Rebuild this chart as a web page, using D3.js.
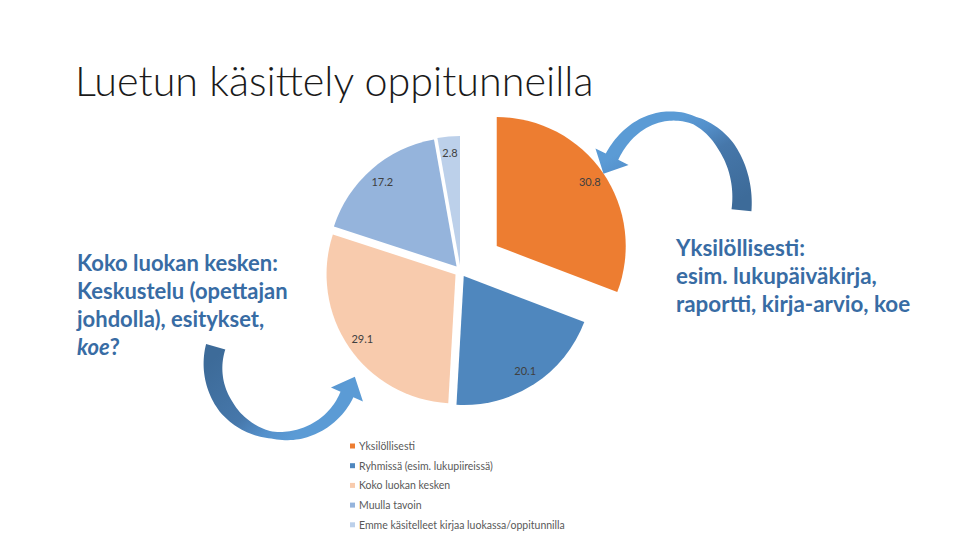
<!DOCTYPE html>
<html lang="fi">
<head>
<meta charset="UTF-8">
<title>Luetun käsittely oppitunneilla</title>
<script src="https://d3js.org/d3.v7.min.js"></script>
<style>
  body { margin: 0; background: #fff; }
  svg { display: block; font-family: Lato, "Open Sans", sans-serif; }
</style>
</head>
<body>
<div id="chart"></div>
<script>
// data
const categories = ["Yksilöllisesti", "Ryhmissä (esim. lukupiireissä)", "Koko luokan kesken", "Muulla tavoin", "Emme käsitelleet kirjaa luokassa/oppitunnilla"];
const values = [30.8, 20.1, 29.1, 17.2, 2.8];
const colors = ["#ED7D31", "#4F87BE", "#F8CBAD", "#95B4DC", "#BCD0EA"];
const explode = [44, 6, 6, 6, 6];

const titleText = "Luetun käsittely oppitunneilla";
const leftNote = ["Koko luokan kesken:", "Keskustelu (opettajan", "johdolla), esitykset,"];
const rightNote = ["Yksilöllisesti:", "esim. lukupäiväkirja,", "raportti, kirja-arvio, koe"];

const width = 960, height = 540;
const svg = d3.select("#chart").append("svg")
    .attr("width", width)
    .attr("height", height);
svg.append("rect").attr("width", width).attr("height", height).attr("fill", "#fff");

// title
svg.append("text")
    .attr("x", 75).attr("y", 96)
    .attr("font-size", 41.3).attr("font-weight", 300)
    .attr("fill", "#1a1a1a")
    .text(titleText);

// pie
const cx = 460.5, cy = 271, radius = 129;
const pie = d3.pie().sort(null).value(d => d)(values);
const arc = d3.arc().innerRadius(0).outerRadius(radius);
const labelArc = d3.arc().innerRadius(113).outerRadius(113);

const slices = svg.append("g").attr("transform", `translate(${cx},${cy})`)
    .selectAll("g").data(pie).join("g")
    .attr("transform", (d, i) => {
        const a = (d.startAngle + d.endAngle) / 2;
        return `translate(${Math.sin(a) * explode[i]},${-Math.cos(a) * explode[i]})`;
    });

slices.append("path")
    .attr("d", arc)
    .attr("fill", (d, i) => colors[i]);

slices.append("text")
    .attr("transform", d => `translate(${labelArc.centroid(d)})`)
    .attr("text-anchor", "middle")
    .attr("dominant-baseline", "central")
    .attr("font-size", 11)
    .attr("fill", "#404040")
    .text(d => d.data.toFixed(1));

// legend
const legend = svg.append("g").attr("transform", "translate(350,446)")
    .selectAll("g").data(categories).join("g")
    .attr("transform", (d, i) => `translate(0,${i * 19.7})`);
legend.append("rect")
    .attr("x", 0).attr("y", -2.5).attr("width", 5).attr("height", 5)
    .attr("fill", (d, i) => colors[i]);
legend.append("text")
    .attr("x", 9).attr("y", 0)
    .attr("dominant-baseline", "central")
    .attr("font-size", 10.5)
    .attr("fill", "#595959")
    .text(d => d);

// notes
const noteColor = "#386CA4";
const left = svg.append("text")
    .attr("font-size", 22).attr("font-weight", 700).attr("fill", noteColor);
leftNote.forEach((t, i) => {
    left.append("tspan").attr("x", 77).attr("y", 271 + i * 28).text(t);
});
const last = left.append("tspan").attr("x", 77).attr("y", 271 + 3 * 28);
last.append("tspan").attr("font-style", "italic").text("koe");
last.append("tspan").text("?");

const right = svg.append("text")
    .attr("font-size", 22.4).attr("font-weight", 700).attr("fill", noteColor);
rightNote.forEach((t, i) => {
    right.append("tspan").attr("x", 676).attr("y", 256 + i * 28).text(t);
});

// curved arrows
const defs = svg.append("defs");
function gradient(id, x1, y1, x2, y2) {
    const g = defs.append("linearGradient").attr("id", id)
        .attr("gradientUnits", "userSpaceOnUse")
        .attr("x1", x1).attr("y1", y1).attr("x2", x2).attr("y2", y2);
    g.append("stop").attr("offset", 0).attr("stop-color", "#3D6B99");
    g.append("stop").attr("offset", 0.55).attr("stop-color", "#4677AA");
    g.append("stop").attr("offset", 0.8).attr("stop-color", "#5490CB");
    g.append("stop").attr("offset", 1).attr("stop-color", "#5B9BD5");
}

function curvedArrow(o) {
    const rad = Math.PI / 180;
    const n = 80;
    const widthAt = d3.scaleLinear().domain(o.wu).range(o.w);
    const pt = a => [o.cx + o.rx * Math.cos(a), o.cy + o.ry * Math.sin(a)];
    const sideA = [], sideB = [];
    let tan = [0, 0], end = [0, 0];
    for (let k = 0; k <= n; k++) {
        const u = k / n;
        const a = (o.a0 + (o.a1 - o.a0) * u) * rad;
        const p = pt(a);
        const p2 = pt(a + (o.a1 - o.a0) * rad * 0.001);
        let tx = p2[0] - p[0], ty = p2[1] - p[1];
        const len = Math.hypot(tx, ty);
        tx /= len; ty /= len;
        const w = widthAt(u) / 2;
        sideA.push([p[0] - ty * w, p[1] + tx * w]);
        sideB.push([p[0] + ty * w, p[1] - tx * w]);
        tan = [tx, ty]; end = p;
    }
    const hw = o.headHalf, hl = o.headLen;
    const head = [
        [end[0] - tan[1] * hw, end[1] + tan[0] * hw],
        [end[0] + tan[0] * hl, end[1] + tan[1] * hl],
        [end[0] + tan[1] * hw, end[1] - tan[0] * hw]
    ];
    const poly = sideA.concat(head, sideB.reverse());
    svg.append("path")
        .attr("d", "M" + poly.map(p => p.join(",")).join("L") + "Z")
        .attr("fill", `url(#${o.grad})`);
}

gradient("gTop", 740, 200, 690, 112);
curvedArrow({cx: 672, cy: 200, rx: 70, ry: 84, a0: 7, a1: -149,
    wu: [0, 0.3, 0.5, 0.7, 1], w: [20, 16, 8, 10, 14],
    headHalf: 18.5, headLen: 19, grad: "gTop"});

gradient("gBottom", 212, 360, 290, 440);
curvedArrow({cx: 283, cy: 366, rx: 70, ry: 70, a0: 196, a1: 24,
    wu: [0, 0.3, 0.56, 0.7, 1], w: [20, 16, 7, 10, 14],
    headHalf: 17.5, headLen: 19.5, grad: "gBottom"});
</script>
</body>
</html>
